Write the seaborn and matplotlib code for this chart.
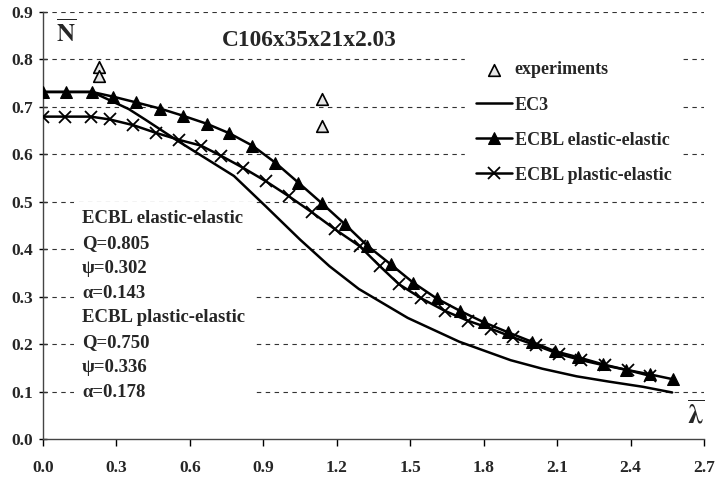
import matplotlib
matplotlib.use("Agg")
import matplotlib.pyplot as plt
import seaborn as sns

# ---- data ----
exp_x = [0.23, 0.23, 1.14, 1.14]
exp_y = [0.783, 0.765, 0.716, 0.660]

ec3_x = [0.0, 0.2, 0.35, 0.42, 0.55, 0.64, 0.78, 0.91, 1.05, 1.17, 1.29, 1.49,
         1.70, 1.91, 2.04, 2.18, 2.31, 2.45, 2.57]
ec3_y = [0.731, 0.731, 0.695, 0.672, 0.628, 0.599, 0.554, 0.490, 0.420, 0.364,
         0.316, 0.255, 0.205, 0.166, 0.148, 0.132, 0.121, 0.110, 0.098]

ee_x = [0.0, 0.093, 0.2, 0.287, 0.38, 0.478, 0.571, 0.669, 0.761, 0.855, 0.949,
        1.043, 1.138, 1.234, 1.325, 1.420, 1.513, 1.608, 1.703, 1.80, 1.898,
        1.996, 2.09, 2.187, 2.289, 2.380, 2.48, 2.572]
ee_y = [0.731, 0.731, 0.731, 0.721, 0.709, 0.696, 0.681, 0.664, 0.644, 0.618,
        0.582, 0.540, 0.497, 0.452, 0.407, 0.368, 0.329, 0.296, 0.270, 0.246,
        0.225, 0.205, 0.185, 0.172, 0.157, 0.146, 0.136, 0.126]

pe_x = [0.0, 0.09, 0.195, 0.273, 0.369, 0.460, 0.556, 0.645, 0.729, 0.818, 0.910,
        1.005, 1.097, 1.192, 1.294, 1.376, 1.454, 1.546, 1.641, 1.736, 1.831,
        1.920, 2.015, 2.107, 2.199, 2.294, 2.389, 2.480]
pe_y = [0.679, 0.679, 0.679, 0.673, 0.661, 0.645, 0.630, 0.618, 0.596, 0.571,
        0.543, 0.511, 0.478, 0.442, 0.406, 0.364, 0.326, 0.296, 0.270, 0.249,
        0.232, 0.214, 0.197, 0.179, 0.166, 0.155, 0.145, 0.133]

x_ticks = [0.0, 0.3, 0.6, 0.9, 1.2, 1.5, 1.8, 2.1, 2.4, 2.7]
y_ticks = [0.0, 0.1, 0.2, 0.3, 0.4, 0.5, 0.6, 0.7, 0.8, 0.9]

title_text = "C106x35x21x2.03"
info_text = ("ECBL elastic-elastic\nQ=0.805\nψ=0.302\nα=0.143\n"
             "ECBL plastic-elastic\nQ=0.750\nψ=0.336\nα=0.178")

# ---- style ----
sns.set_theme(style="white")
plt.rcParams['font.family'] = ['Liberation Serif', 'DejaVu Serif']
plt.rcParams['font.weight'] = 'bold'
plt.rcParams['mathtext.fontset'] = 'stix'

fig = plt.figure(figsize=(7.21, 4.82), dpi=100)
ax = fig.add_axes([43/721, 1 - 439/482, (704 - 43)/721, (439 - 11.7)/482])

lw = 1.8
sns.lineplot(x=ec3_x, y=ec3_y, ax=ax, color='black', lw=lw, label='EC3',
             sort=False, estimator=None, zorder=3)
sns.lineplot(x=ee_x, y=ee_y, ax=ax, color='black', lw=lw, marker='^',
             markersize=8, markeredgecolor='black', label='ECBL elastic-elastic',
             sort=False, estimator=None, zorder=4)
sns.lineplot(x=pe_x, y=pe_y, ax=ax, color='black', lw=lw, marker='x',
             markersize=9, markeredgewidth=1.3, markeredgecolor='black',
             label='ECBL plastic-elastic', sort=False, estimator=None, zorder=4)
sns.scatterplot(x=exp_x, y=exp_y, ax=ax, marker='^', s=70, color='#e6e6e6',
                edgecolor='black', linewidth=1.2, label='experiments', zorder=5)

ax.set_xlim(0, 2.7)
ax.set_ylim(0, 0.9)
ax.set_xticks(x_ticks)
ax.set_yticks(y_ticks)
ax.set_xticklabels([f"{t:.1f}" for t in x_ticks], fontsize=12.5, fontweight='bold')
ax.set_yticklabels([f"{t:.1f}" for t in y_ticks], fontsize=12.5, fontweight='bold')
ax.tick_params(axis='x', direction='out', length=5, width=1, color='black', pad=10)
ax.tick_params(axis='y', direction='inout', length=6, width=1, color='black', pad=4)
ax.tick_params(left=True, bottom=True)

for s in ['top', 'right']:
    ax.spines[s].set_visible(False)
for s in ['left', 'bottom']:
    ax.spines[s].set_color('#444444')
    ax.spines[s].set_linewidth(1.0)

for yv in y_ticks[1:]:
    ax.axhline(yv, color='#333333', lw=0.8, ls=(0, (4, 4)), zorder=1)

ax.set_xlabel('')
ax.set_ylabel('')

# title inside plot
ax.text(0.73, 0.84, title_text, fontsize=16.8, fontweight='bold', ha='left',
        va='center', zorder=6)

# axis symbols
ax.text(0.055, 0.855, r'$\mathbf{\overline{N}}$', fontsize=18, ha='left',
        va='center', zorder=6)
ax.text(2.665, 0.05, r'$\overline{\mathrm{\lambda}}$', fontsize=20, ha='center',
        va='center', zorder=6)

# parameter block
ax.text(0.16, 0.482, info_text, fontsize=13.5, fontweight='bold', ha='left',
        va='top', linespacing=1.60, zorder=6,
        bbox=dict(facecolor='white', edgecolor='none', pad=6))

# legend
h, l = ax.get_legend_handles_labels()
order = [l.index('experiments'), l.index('EC3'), l.index('ECBL elastic-elastic'),
         l.index('ECBL plastic-elastic')]
leg = ax.legend([h[i] for i in order], [l[i] for i in order],
                loc='upper left', bbox_to_anchor=(0.625, 0.93), frameon=True,
                fancybox=False, edgecolor='white', facecolor='white',
                framealpha=1, prop={'size': 13, 'weight': 'bold', 'family': 'Liberation Serif'},
                handlelength=2.0, handletextpad=0.15, labelspacing=1.0,
                borderpad=0.6)
leg.set_zorder(7)

fig.savefig('out.png', dpi=100)
